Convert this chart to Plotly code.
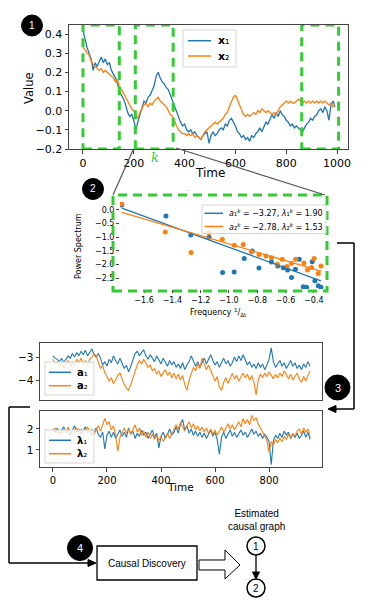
import plotly.graph_objects as go

# The page body has an 8px margin, so the figure is drawn 8px in from the window's corner.
OFF = 8
W, H = 366 - OFF, 609 - OFF
def X(p): return (p - OFF) / W
def Y(p): return 1 - (p - OFF) / H

BLUE = "#1f77b4"
ORANGE = "#ff7f0e"
GREEN = "#33cc33"
FRAME = "#444444"

# ---------------- Panel 1: raw series (sampled every 8 steps) ----------------
step1 = 8
x1_vals = [0.42, 0.37, 0.33, 0.30, 0.27, 0.21, 0.25, 0.23, 0.26, 0.28, 0.25, 0.27, 0.24, 0.25, 0.21, 0.19,
           0.17, 0.14, 0.10, 0.08, 0.06, 0.03, -0.01, -0.03, -0.02, -0.05, -0.10, -0.06, -0.02, 0.02, 0.05, 0.04,
           0.07, 0.08, 0.11, 0.13, 0.18, 0.20, 0.17, 0.15, 0.14, 0.12, 0.11, 0.08, 0.05, 0.02, -0.01, -0.03,
           -0.06, -0.08, -0.07, -0.10, -0.11, -0.10, -0.12, -0.11, -0.13, -0.14, -0.15, -0.13, -0.12, -0.11, -0.17, -0.13,
           -0.11, -0.13, -0.12, -0.10, -0.09, -0.10, -0.07, -0.08, -0.05, -0.04, -0.06, -0.08, -0.11, -0.12, -0.14, -0.13,
           -0.15, -0.14, -0.16, -0.13, -0.14, -0.12, -0.11, -0.09, -0.11, -0.08, -0.06, -0.07, -0.04, -0.02, -0.04, -0.01,
           -0.03, 0.00, -0.02, -0.03, -0.05, -0.06, -0.08, -0.07, -0.09, -0.08, -0.09, -0.10, -0.11, -0.09, -0.07, -0.06,
           -0.04, -0.05, -0.03, -0.02, 0.00, 0.01, -0.01, 0.02, 0.00, -0.05, 0.03, 0.05, 0.02]
x2_vals = [0.33, 0.32, 0.30, 0.29, 0.26, 0.24, 0.23, 0.22, 0.21, 0.22, 0.20, 0.21, 0.20, 0.19, 0.18, 0.17,
           0.15, 0.16, 0.12, 0.11, 0.09, 0.07, 0.05, 0.03, 0.01, 0.00, -0.02, -0.04, -0.01, 0.01, 0.03, 0.04,
           0.02, 0.04, 0.03, 0.05, 0.06, 0.07, 0.05, 0.04, 0.03, 0.02, 0.00, -0.02, -0.03, -0.05, -0.08, -0.10,
           -0.11, -0.12, -0.12, -0.13, -0.12, -0.13, -0.12, -0.14, -0.13, -0.14, -0.15, -0.13, -0.11, -0.10, -0.09, -0.08,
           -0.07, -0.06, -0.07, -0.06, -0.05, -0.04, -0.02, -0.01, 0.02, 0.05, 0.07, 0.08, 0.06, 0.03, 0.00, -0.02,
           -0.03, -0.02, -0.03, -0.02, -0.01, -0.02, 0.00, -0.01, 0.01, 0.00, -0.01, 0.00, -0.01, -0.02, -0.01, -0.02,
           0.00, 0.02, 0.03, 0.04, 0.05, 0.04, 0.05, 0.04, 0.04, 0.05, 0.06, 0.05, 0.04, 0.05, 0.04, 0.05,
           0.04, 0.05, 0.04, 0.05, 0.04, 0.05, 0.04, 0.05, 0.04, 0.03, 0.04, 0.02, 0.03]
t1 = [step1 * i for i in range(len(x1_vals))]
t2 = [step1 * i for i in range(len(x2_vals))]
x_ticks = [0, 200, 400, 600, 800, 1000]
windows = [(0, 143), (206, 355), (861, 1006)]
p1_names = ["<b>x</b>\u2081", "<b>x</b>\u2082"]

# ---------------- Panel 2: power spectrum ----------------
freq_b = [-1.757, -1.445, -1.270, -1.141, -1.045, -0.963, -0.892, -0.835, -0.788, -0.700, -0.656, -0.616,
          -0.586, -0.558, -0.530, -0.503, -0.475, -0.452, -0.412, -0.393, -0.369, -0.350]
pow_b = [0.18, -0.22, -0.92, -1.00, -2.30, -2.28, -1.78, -1.51, -2.13, -1.91, -2.06, -2.12,
         -2.21, -2.48, -2.18, -1.81, -2.82, -2.84, -1.90, -2.60, -2.78, -2.84]
freq_o = [-1.757, -1.450, -1.268, -1.141, -1.047, -0.962, -0.899, -0.840, -0.788, -0.739, -0.699, -0.659,
          -0.624, -0.590, -0.558, -0.529, -0.470, -0.445, -0.416, -0.398, -0.369, -0.350]
pow_o = [0.22, -0.81, -1.56, -0.83, -1.08, -1.30, -1.27, -1.54, -1.64, -1.69, -1.76, -1.99,
         -1.81, -2.08, -1.96, -1.81, -1.95, -2.21, -2.11, -1.78, -2.33, -2.06]
fit_a = [-3.27, -2.78]
fit_lam = [1.90, 1.53]

# ---------------- Panel 3: estimated parameters (sampled every 8 steps) ----------------
a1_vals = [-2.95, -3.05, -3.10, -3.20, -3.05, -3.25, -3.10, -2.95, -3.05, -2.85, -3.00, -2.80, -2.95, -2.75, -2.90, -2.70,
           -2.95, -2.80, -2.65, -2.90, -3.00, -2.85, -3.05, -3.35, -3.20, -3.40, -3.10, -3.25, -2.95, -3.15, -3.30, -3.05,
           -3.30, -3.50, -3.35, -3.65, -3.40, -3.10, -2.85, -2.75, -2.95, -2.80, -2.70, -2.95, -3.10, -2.90, -3.05, -3.20,
           -2.95, -3.10, -3.30, -3.05, -3.25, -3.40, -3.15, -3.35, -3.20, -3.45, -3.30, -3.50, -3.25, -3.55, -3.35, -3.20,
           -2.95, -3.15, -3.40, -3.20, -3.45, -3.25, -3.05, -3.30, -3.10, -2.90, -3.15, -3.35, -3.20, -3.45, -3.25, -3.05,
           -3.30, -3.15, -3.40, -3.25, -3.00, -3.20, -2.95, -3.15, -2.90, -3.10, -3.35, -3.20, -3.45, -3.30, -3.50, -3.25,
           -3.45, -3.30, -3.55, -3.35, -3.10, -2.60, -3.20, -3.45, -3.30, -3.15, -3.40, -3.25, -3.50, -3.30, -3.15, -3.40,
           -3.25, -3.50, -3.35, -3.55, -3.30, -3.45, -3.20, -3.40]
a2_vals = [-3.10, -3.30, -3.20, -3.45, -3.25, -3.50, -3.30, -3.15, -3.40, -3.20, -3.35, -3.10, -3.25, -3.05, -3.30, -3.15,
           -3.35, -3.10, -3.00, -2.85, -2.95, -3.20, -3.50, -3.35, -3.70, -3.85, -4.05, -3.90, -4.15, -4.00, -3.80, -3.70,
           -3.95, -4.20, -4.35, -4.45, -4.20, -3.90, -3.60, -3.35, -3.15, -3.30, -3.10, -3.25, -3.45, -3.35, -3.60, -3.50,
           -3.75, -3.60, -3.85, -3.70, -3.55, -3.80, -3.65, -3.90, -3.70, -3.95, -3.75, -4.00, -3.80, -4.20, -4.45, -4.00,
           -3.70, -3.45, -3.60, -3.30, -3.50, -3.05, -3.30, -3.55, -3.35, -3.60, -3.80, -4.05, -3.85, -4.30, -4.45, -4.10,
           -3.90, -4.15, -3.95, -3.70, -3.95, -3.80, -4.05, -3.85, -3.70, -3.90, -3.75, -4.00, -3.80, -4.10, -4.65, -4.00,
           -3.75, -3.90, -3.70, -3.85, -3.65, -3.80, -3.95, -3.75, -3.90, -3.70, -3.85, -3.60, -3.80, -3.95, -3.75, -4.00,
           -3.85, -3.70, -3.95, -4.10, -3.85, -4.05, -3.80, -3.60]
lam1_vals = [2.00, 1.85, 2.05, 1.75, 1.95, 2.10, 1.80, 2.00, 1.70, 1.95, 2.15, 1.85, 2.00, 1.75, 1.95, 2.10,
             1.80, 1.95, 1.70, 1.90, 2.05, 1.75, 1.60, 1.85, 1.05, 1.70, 1.90, 1.60, 1.85, 1.55, 1.75, 1.95,
             1.65, 1.85, 1.60, 2.05, 1.75, 1.90, 1.55, 1.80, 1.65, 1.95, 1.70, 1.85, 1.55, 1.75, 1.95, 1.60,
             1.80, 1.10, 1.65, 1.85, 1.55, 1.75, 2.00, 1.70, 1.85, 2.10, 1.80, 2.25, 2.45, 1.95, 2.15, 1.80,
             2.00, 1.70, 1.90, 1.65, 1.85, 1.60, 1.80, 1.55, 1.75, 1.95, 1.65, 1.85, 1.50, 0.80, 1.60, 1.85,
             1.55, 1.75, 1.95, 1.65, 1.85, 1.60, 1.80, 1.95, 1.70, 1.85, 1.60, 1.80, 2.00, 1.75, 1.90, 1.65,
             1.80, 1.55, 1.75, 1.60, 1.40, 0.30, 1.45, 1.70, 1.55, 1.80, 1.60, 1.90, 1.70, 1.85, 1.55, 1.75,
             1.60, 1.80, 1.55, 1.70, 1.90, 1.60, 1.85, 1.50]
lam2_vals = [1.90, 2.05, 1.80, 1.95, 1.75, 2.00, 1.85, 2.10, 1.80, 1.95, 1.75, 2.05, 1.85, 2.00, 1.80, 1.95,
             2.10, 1.85, 2.00, 1.75, 1.95, 2.15, 1.90, 2.25, 2.50, 2.20, 2.35, 1.95, 2.15, 1.70, 0.95, 1.60,
             1.85, 2.05, 1.80, 2.00, 1.75, 1.95, 2.20, 1.85, 2.05, 1.70, 1.90, 1.60, 1.85, 1.55, 1.75, 1.50,
             1.70, 1.45, 1.65, 1.40, 1.60, 1.80, 1.55, 1.75, 1.95, 2.20, 2.00, 2.30, 2.10, 1.90, 2.15, 2.35,
             2.05, 2.25, 1.95, 2.15, 1.90, 2.10, 1.85, 2.05, 1.80, 2.00, 1.75, 1.95, 1.70, 1.90, 2.10, 1.85,
             2.05, 2.25, 2.00, 2.20, 1.95, 2.15, 2.35, 2.10, 2.50, 2.25, 2.45, 2.20, 2.65, 2.40, 2.55, 2.25,
             2.05, 1.85, 1.60, 1.45, 0.90, 1.40, 1.25, 1.50, 1.35, 1.55, 1.40, 1.65, 1.50, 1.75, 1.55, 1.80,
             1.65, 1.90, 2.00, 1.75, 2.05, 1.85, 2.00, 1.60]
tp = [step1 * i for i in range(len(a1_vals))]
tq = [step1 * i for i in range(len(a2_vals))]
tr = [step1 * i for i in range(len(lam1_vals))]
ts = [step1 * i for i in range(len(lam2_vals))]
p3_ticks = [0, 200, 400, 600, 800]
a_names = ["<b>a</b>\u2081", "<b>a</b>\u2082"]
lam_names = ["<b>\u03bb</b>\u2081", "<b>\u03bb</b>\u2082"]

fig = go.Figure()

# Panel 1 traces
fig.add_trace(go.Scatter(x=t1, y=x1_vals, mode="lines", line=dict(color=BLUE, width=1.3),
                         name=p1_names[0], xaxis="x", yaxis="y", showlegend=False))
fig.add_trace(go.Scatter(x=t2, y=x2_vals, mode="lines", line=dict(color=ORANGE, width=1.3),
                         name=p1_names[1], xaxis="x", yaxis="y", showlegend=False))

# Panel 2 traces
fig.add_trace(go.Scatter(x=freq_b, y=pow_b, mode="markers", marker=dict(color=BLUE, size=5),
                         showlegend=False, xaxis="x2", yaxis="y2"))
fig.add_trace(go.Scatter(x=freq_o, y=pow_o, mode="markers", marker=dict(color=ORANGE, size=5),
                         showlegend=False, xaxis="x2", yaxis="y2"))
subs = ["\u2081", "\u2082"]
fit_names = []
for i, (col, fx) in enumerate([(BLUE, freq_b), (ORANGE, freq_o)]):
    xs = [min(fx), max(fx)]
    ys = [fit_a[i] - fit_lam[i] * v for v in xs]
    nm = ("<i>a</i>%s<sup><i>k</i></sup> = \u2212%.2f, <i>\u03bb</i>%s<sup><i>k</i></sup> = %.2f"
          % (subs[i], abs(fit_a[i]), subs[i], fit_lam[i]))
    fit_names.append(nm)
    fig.add_trace(go.Scatter(x=xs, y=ys, mode="lines", line=dict(color=col, width=1.3), name=nm,
                             xaxis="x2", yaxis="y2", showlegend=False))

# Panel 3 traces
fig.add_trace(go.Scatter(x=tp, y=a1_vals, mode="lines", line=dict(color=BLUE, width=1.1),
                         name=a_names[0], xaxis="x3", yaxis="y3", showlegend=False))
fig.add_trace(go.Scatter(x=tq, y=a2_vals, mode="lines", line=dict(color=ORANGE, width=1.1),
                         name=a_names[1], xaxis="x3", yaxis="y3", showlegend=False))
fig.add_trace(go.Scatter(x=tr, y=lam1_vals, mode="lines", line=dict(color=BLUE, width=1.1),
                         name=lam_names[0], xaxis="x4", yaxis="y4", showlegend=False))
fig.add_trace(go.Scatter(x=ts, y=lam2_vals, mode="lines", line=dict(color=ORANGE, width=1.1),
                         name=lam_names[1], xaxis="x4", yaxis="y4", showlegend=False))

FONT = "DejaVu Sans"
axcommon = dict(showgrid=False, zeroline=False, ticks="outside", ticklen=3.5, tickcolor=FRAME,
                showline=True, mirror=True, linecolor=FRAME, linewidth=1, automargin=False)
ax2common = dict(showgrid=False, zeroline=False, ticks="outside", ticklen=3, tickcolor=FRAME,
                 showline=False, automargin=False, tickfont=dict(size=8))

layout = dict(
    template="none", showlegend=False,
    width=W, height=H, autosize=False, margin=dict(l=0, r=0, t=0, b=0, pad=0),
    paper_bgcolor="white", plot_bgcolor="white",
    font=dict(family=FONT, color="black", size=11),
    xaxis=dict(domain=[X(69), X(348)], range=[-55, 1043], tickvals=x_ticks, anchor="y",
               tickfont=dict(size=11), **axcommon),
    yaxis=dict(domain=[Y(149), Y(25)], range=[-0.2, 0.447], dtick=0.1, tickformat=".1f", anchor="x",
               tickfont=dict(size=11), **axcommon),
    xaxis2=dict(domain=[X(120), X(326.6)], range=[-1.77, -0.31], dtick=0.2, tick0=0, tickformat=".1f",
                anchor="y2", **ax2common),
    yaxis2=dict(domain=[Y(288.9), Y(201.8)], range=[-2.9, 0.3], dtick=0.5, tick0=0, tickformat=".1f",
                anchor="x2", **ax2common),
    xaxis3=dict(domain=[X(40), X(322)], range=[-48, 996], anchor="y3", showticklabels=False,
                **{k: v for k, v in axcommon.items() if k != "ticks"}, ticks=""),
    yaxis3=dict(domain=[Y(400), Y(343)], range=[-4.87, -2.39], tickvals=[-4, -3], anchor="x3",
                tickfont=dict(size=10.5), **axcommon),
    xaxis4=dict(domain=[X(40), X(322)], range=[-48, 996], tickvals=p3_ticks, anchor="y4",
                tickfont=dict(size=10), **axcommon),
    yaxis4=dict(domain=[Y(467), Y(411)], range=[0.19, 2.857], tickvals=[1, 2], anchor="x4",
                tickfont=dict(size=10.5), **axcommon),
)
fig.update_layout(**layout)

shapes = []
ann = []

def txt(s, x, y, size, **kw):
    d = dict(text=s, x=X(x), y=Y(y), xref="paper", yref="paper", showarrow=False,
             font=dict(size=size, family=kw.pop("family", FONT), color=kw.pop("color", "black")),
             xanchor=kw.pop("xanchor", "center"), yanchor="middle")
    d.update(kw)
    ann.append(d)

def seg(p0, p1, w=1.5, color="black"):
    shapes.append(dict(type="line", xref="paper", yref="paper", x0=X(p0[0]), y0=Y(p0[1]),
                       x1=X(p1[0]), y1=Y(p1[1]), line=dict(color=color, width=w)))

def path(pts, close=False):
    s = "M " + " L ".join("%f,%f" % (X(a), Y(b)) for a, b in pts)
    return s + (" Z" if close else "")

def poly(pts, fill="black", lw=1, lc="black"):
    shapes.append(dict(type="path", xref="paper", yref="paper", path=path(pts, True),
                       line=dict(color=lc, width=lw), fillcolor=fill))

# Green window boxes in panel 1
for (a, b) in windows:
    shapes.append(dict(type="rect", xref="x", yref="y", x0=a, x1=b, y0=-0.2, y1=0.447,
                       line=dict(color=GREEN, width=3, dash="9px,6px")))
# Green box around panel 2
shapes.append(dict(type="rect", xref="paper", yref="paper", x0=X(113), x1=X(327), y0=Y(291), y1=Y(195),
                   line=dict(color=GREEN, width=3, dash="9px,6px")))
# zoom connector lines
seg((133, 150), (113, 195), 1.2, "#555555")
seg((176, 148), (325, 195), 1.2, "#555555")

# legends (matplotlib style boxes)
def legend_box(x0, y0, x1, y1, rows, text_x, line_x0, line_x1, size):
    shapes.append(dict(type="rect", xref="paper", yref="paper", x0=X(x0), x1=X(x1), y0=Y(y1), y1=Y(y0),
                       line=dict(color="#d5d5d5", width=1), fillcolor="rgba(255,255,255,0.8)"))
    for (label, color, yy) in rows:
        seg((line_x0, yy), (line_x1, yy), 1.5, color)
        txt(label, text_x, yy, size, xanchor="left")

legend_box(183, 30, 236, 67, [(p1_names[0], BLUE, 40.7), (p1_names[1], ORANGE, 56)], 216, 188, 211, 11)
legend_box(202, 205, 326, 233.5, [(fit_names[0], BLUE, 213.3), (fit_names[1], ORANGE, 226.5)], 227, 204.5, 223, 8)
legend_box(45, 362, 94, 395, [(a_names[0], BLUE, 372.3), (a_names[1], ORANGE, 385.7)], 75, 49, 71, 10)
legend_box(45, 430, 94, 463, [(lam_names[0], BLUE, 440.3), (lam_names[1], ORANGE, 453.7)], 75, 49, 71, 10)

# connectors with arrowheads
seg((337, 243), (354, 243)); seg((354, 243), (354, 409)); seg((354, 409), (334, 409))
poly([(328, 409), (336, 405.5), (336, 412.5)])
seg((30, 407), (9, 407)); seg((9, 407), (9, 563)); seg((9, 563), (90, 563))
poly([(96, 563), (88, 559.5), (88, 566.5)])
# Causal Discovery box
shapes.append(dict(type="rect", xref="paper", yref="paper", x0=X(97), x1=X(197), y0=Y(580), y1=Y(546),
                   line=dict(color="black", width=1.3), fillcolor="white"))
# hollow arrow
poly([(199, 560), (225, 560), (225, 550), (240, 565), (225, 579), (225, 570), (199, 570)], fill="white")

def circle(cx, cy, r, fill, line):
    return dict(type="circle", xref="paper", yref="paper", x0=X(cx - r), x1=X(cx + r),
                y0=Y(cy + r), y1=Y(cy - r), fillcolor=fill, line=line)

badges = [("1", 32, 25.5, 10.5), ("2", 93, 189, 10.5), ("3", 337.5, 387.5, 12.5), ("4", 80, 548, 12.5)]
for (_, cx, cy, r) in badges:
    shapes.append(circle(cx, cy, r, "black", dict(color="black", width=1)))
nodes = [("1", 256, 546), ("2", 256, 588)]
for (_, cx, cy) in nodes:
    shapes.append(circle(cx, cy, 9, "white", dict(color="black", width=1.5)))
# graph edge 1 -> 2
seg((256, 555), (256, 573), 1.3)
poly([(256, 579), (252.5, 572), (259.5, 572)])

for (s, cx, cy, r) in badges:
    txt(s, cx, cy, 10 if r < 11 else 11, color="white", family="Liberation Sans")
for (s, cx, cy) in nodes:
    txt(s, cx, cy, 10, family="Liberation Sans")

txt("Value", 29, 88, 11.5, textangle=-90)
txt("Time", 210, 173, 12)
txt("<i>k</i>", 155, 157, 13, family="DejaVu Serif", color=GREEN)
txt("Power Spectrum", 78, 246, 8, textangle=-90)
txt("Frequency <sup>1</sup>/<sub>\u0394t</sub>", 218, 312, 8)
txt("\u00b7\u00b7\u00b7", 188, 190, 5, color="#888888")
txt("Time", 180, 487, 10.5)
txt("Causal Discovery", 147, 563, 10, family="Liberation Sans")
txt("Estimated<br>causal graph", 256, 520, 10, family="Liberation Sans")

fig.update_layout(shapes=shapes, annotations=ann)
fig.write_html("out.html")
